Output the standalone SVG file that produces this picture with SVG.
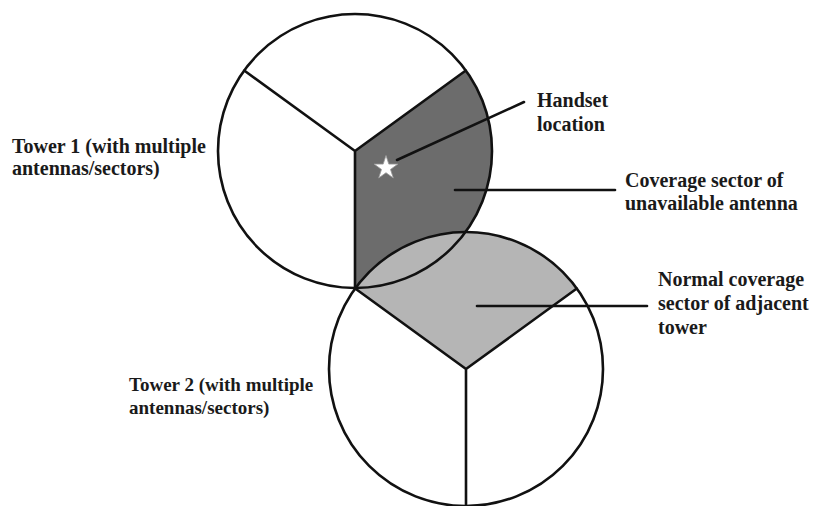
<svg xmlns="http://www.w3.org/2000/svg" width="817" height="506" viewBox="0 0 817 506">
  <style>
    .ln { fill: none; stroke: #111; stroke-width: 2.6; stroke-linecap: round; }
    .lbl { font-family: "Liberation Serif", "Times New Roman", serif; font-weight: bold; font-size: 20px; fill: #1a1a1a; }
    .sm { font-size: 19px; }
    .dark { fill: #6c6c6c; }
    .light { fill: #b5b5b5; }
  </style>
  <rect width="817" height="506" fill="#ffffff"/>

  <!-- sector fills -->
  <g id="fills">
    <path class="dark" d="M355,151 L465.8,70.5 A137,137 0 0 1 355,288 Z"/>
    <path class="light" d="M466,369 L355.2,288.5 A137,137 0 0 1 576.8,288.5 Z"/>
  </g>

  <g id="tower1">
    <circle class="ln" cx="355" cy="151" r="137"/>
    <path class="ln" d="M355,151 L244.2,70.5 M355,151 L465.8,70.5 M355,151 L355,288"/>
  </g>

  <g id="tower2">
    <circle class="ln" cx="466" cy="369" r="137"/>
    <path class="ln" d="M466,369 L355.2,288.5 M466,369 L576.8,288.5 M466,369 L466,506"/>
  </g>

  <g id="handset">
    <polygon points="386,155.5 388.8,164.1 397.9,164.1 390.5,169.4 393.3,178 386,172.7 378.7,178 381.5,169.4 374.1,164.1 383.2,164.1" fill="#ffffff" stroke="#9a9a9a" stroke-width="0.8"/>
  </g>

  <g id="connectors">
    <line class="ln" x1="397" y1="160" x2="524" y2="102"/>
    <line class="ln" x1="455" y1="190" x2="615" y2="190"/>
    <line class="ln" x1="477" y1="306" x2="647" y2="306"/>
  </g>

  <g id="label-tower1">
    <text class="lbl" x="12" y="153">Tower 1 (with multiple</text>
    <text class="lbl" x="12" y="175">antennas/sectors)</text>
  </g>
  <g id="label-handset">
    <text class="lbl" x="537" y="107">Handset</text>
    <text class="lbl" x="537" y="131">location</text>
  </g>
  <g id="label-unavailable">
    <text class="lbl" x="625" y="187">Coverage sector of</text>
    <text class="lbl" x="625" y="210">unavailable antenna</text>
  </g>
  <g id="label-adjacent">
    <text class="lbl" x="658" y="286">Normal coverage</text>
    <text class="lbl" x="658" y="310">sector of adjacent</text>
    <text class="lbl" x="658" y="334">tower</text>
  </g>
  <g id="label-tower2">
    <text class="lbl sm" x="129" y="391">Tower 2 (with multiple</text>
    <text class="lbl sm" x="129" y="414">antennas/sectors)</text>
  </g>
</svg>
